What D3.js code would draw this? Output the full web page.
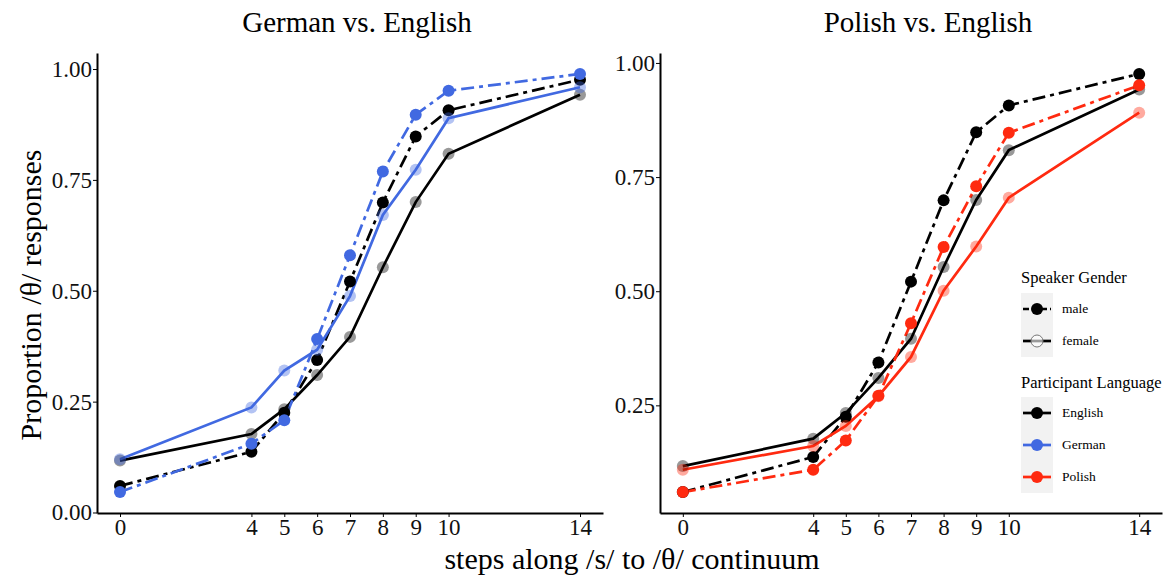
<!DOCTYPE html>
<html>
<head>
<meta charset="utf-8">
<script src="https://cdn.jsdelivr.net/npm/d3@7"></script>
<style>
  body { margin: 0; background: #fff; }
  svg { font-family: "Liberation Serif", "DejaVu Serif", serif; }
  .axis text { font-family: "Liberation Serif", serif; font-size: 23px; fill: #111; }
  .axis path, .axis line { stroke: #000; }
</style>
</head>
<body>
<div id="chart"></div>
<script>
// data
var steps = [0, 4, 5, 6, 7, 8, 9, 10, 14];
var englishMale   = [0.060, 0.137, 0.225, 0.344, 0.521, 0.699, 0.848, 0.907, 0.976];
var englishFemale = [0.117, 0.177, 0.233, 0.310, 0.396, 0.553, 0.700, 0.809, 0.942];
var germanMale    = [0.046, 0.155, 0.208, 0.391, 0.580, 0.769, 0.897, 0.951, 0.989];
var germanFemale  = [0.120, 0.237, 0.320, 0.367, 0.488, 0.671, 0.773, 0.889, 0.959];
var polishMale    = [0.060, 0.109, 0.173, 0.271, 0.430, 0.597, 0.730, 0.847, 0.951];
var polishFemale  = [0.109, 0.161, 0.205, 0.270, 0.356, 0.501, 0.598, 0.705, 0.891];
var yTicks = [0, 0.25, 0.5, 0.75, 1];
var panelTitles = ['German vs. English', 'Polish vs. English'];
var languages = ['English', 'German', 'Polish'];
var genders = ['male', 'female'];

var colors = { English: '#000000', German: '#4169e1', Polish: '#ff2a10' };
var dash = '13,5,4,5';

var width = 1163, height = 576;
var svg = d3.select('#chart').append('svg')
    .attr('width', width)
    .attr('height', height);

function series(lang, gender, values) {
    return {
        lang: lang,
        gender: gender,
        points: steps.map(function (s, i) { return { step: s, value: values[i] }; })
    };
}

var panels = [
    {
        title: panelTitles[0],
        left: 97, right: 603, titleShift: 7,
        data: [series('English', 'female', englishFemale), series('English', 'male', englishMale),
               series('German', 'female', germanFemale), series('German', 'male', germanMale)]
    },
    {
        title: panelTitles[1],
        left: 660, right: 1162, titleShift: 17,
        data: [series('English', 'female', englishFemale), series('English', 'male', englishMale),
               series('Polish', 'female', polishFemale), series('Polish', 'male', polishMale)]
    }
];

var plotTop = 53, plotBottom = 513;

panels.forEach(function (p) {
    var all = [];
    p.data.forEach(function (s) { s.points.forEach(function (d) { all.push(d.value); }); });
    var ext = d3.extent(all);
    var pad = (ext[1] - ext[0]) * 0.05;
    var xExt = d3.extent(steps);
    var xPad = (xExt[1] - xExt[0]) * 0.05;

    var x = d3.scaleLinear().domain([xExt[0] - xPad, xExt[1] + xPad]).range([p.left, p.right]);
    var y = d3.scaleLinear().domain([ext[0] - pad, ext[1] + pad]).range([plotBottom, plotTop]);

    var g = svg.append('g');

    g.append('g')
        .attr('class', 'axis')
        .attr('transform', 'translate(0,' + plotBottom + ')')
        .call(d3.axisBottom(x).tickValues(steps).tickFormat(d3.format('d'))
            .tickSizeInner(4).tickSizeOuter(0).tickPadding(2))
        .call(function (a) {
            a.select('.domain').attr('stroke-width', 2);
            a.selectAll('.tick line').attr('stroke', '#333');
        });

    g.append('g')
        .attr('class', 'axis')
        .attr('transform', 'translate(' + p.left + ',0)')
        .call(d3.axisLeft(y)
            .tickValues(yTicks.filter(function (t) { return t >= y.domain()[0] && t <= y.domain()[1]; }))
            .tickFormat(d3.format('.2f'))
            .tickSizeInner(4).tickSizeOuter(0).tickPadding(1))
        .call(function (a) {
            a.select('.domain').attr('stroke-width', 2);
            a.selectAll('.tick line').attr('stroke', '#333');
        });

    var line = d3.line()
        .x(function (d) { return x(d.step); })
        .y(function (d) { return y(d.value); });

    p.data.forEach(function (s) {
        g.append('path')
            .datum(s.points)
            .attr('fill', 'none')
            .attr('stroke', colors[s.lang])
            .attr('stroke-width', 2.7)
            .attr('stroke-dasharray', s.gender === 'male' ? dash : null)
            .attr('d', line);
    });

    p.data.forEach(function (s) {
        g.selectAll(null)
            .data(s.points)
            .enter()
            .append('circle')
            .attr('cx', function (d) { return x(d.step); })
            .attr('cy', function (d) { return y(d.value); })
            .attr('r', 6)
            .attr('fill', colors[s.lang])
            .attr('fill-opacity', s.gender === 'male' ? 1 : 0.4);
    });

    g.append('text')
        .attr('x', (p.left + p.right) / 2 + p.titleShift)
        .attr('y', 32)
        .attr('text-anchor', 'middle')
        .style('font-size', '29px')
        .text(p.title);
});

// axis titles
svg.append('text')
    .attr('x', 632)
    .attr('y', 569)
    .attr('text-anchor', 'middle')
    .style('font-size', '30px')
    .text('steps along /s/ to /θ/ continuum');

svg.append('text')
    .attr('transform', 'translate(41,295) rotate(-90)')
    .attr('text-anchor', 'middle')
    .style('font-size', '30px')
    .text('Proportion /θ/ responses');

// legend
var legend = svg.append('g').attr('transform', 'translate(1021,0)');

function legendBlock(title, titleY, keyTop, items) {
    legend.append('text')
        .attr('x', 0)
        .attr('y', titleY)
        .style('font-size', '16.5px')
        .text(title);
    legend.append('rect')
        .attr('x', 0)
        .attr('y', keyTop)
        .attr('width', 32)
        .attr('height', items.length * 32)
        .attr('fill', '#f2f2f2');
    items.forEach(function (it, i) {
        var cy = keyTop + 16 + i * 32;
        legend.append('line')
            .attr('x1', 2).attr('x2', 30)
            .attr('y1', cy).attr('y2', cy)
            .attr('stroke', it.color)
            .attr('stroke-width', 2.7)
            .attr('stroke-dasharray', it.dash);
        legend.append('circle')
            .attr('cx', 16).attr('cy', cy).attr('r', 6)
            .attr('fill', it.fill)
            .attr('fill-opacity', it.opacity)
            .attr('stroke', it.stroke || 'none')
            .attr('stroke-width', 1);
        legend.append('text')
            .attr('x', 41)
            .attr('y', cy + 4)
            .style('font-size', '13.5px')
            .text(it.label);
    });
}

legendBlock('Speaker Gender', 283, 293, genders.map(function (gd) {
    return gd === 'male'
        ? { label: gd, color: '#000', dash: '6,3', fill: '#000', opacity: 1 }
        : { label: gd, color: '#000', dash: null, fill: '#fff', opacity: 0.6, stroke: '#777' };
}));

legendBlock('Participant Language', 388, 397, languages.map(function (l) {
    return { label: l, color: colors[l], dash: null, fill: colors[l], opacity: 1 };
}));
</script>
</body>
</html>
